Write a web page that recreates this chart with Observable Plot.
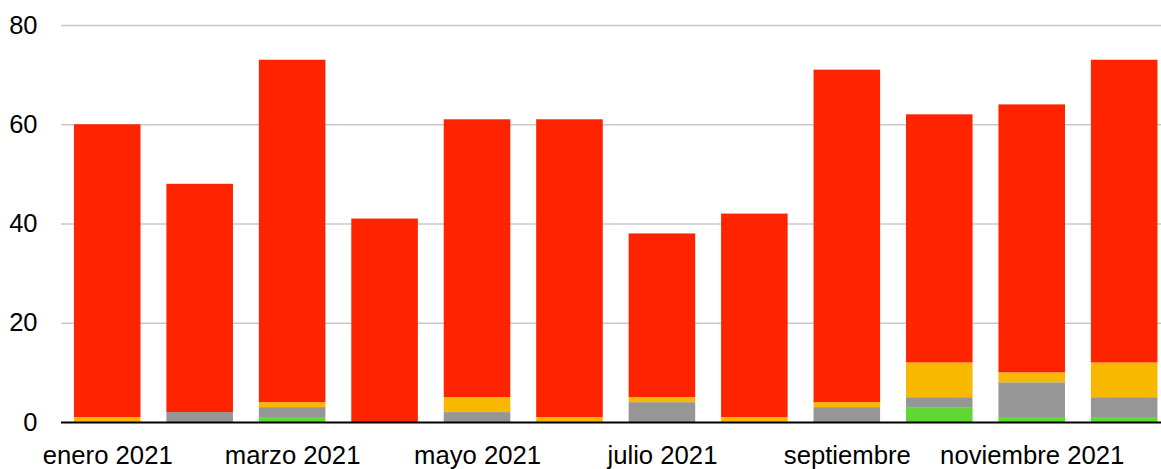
<!DOCTYPE html>
<html>
<head>
<meta charset="utf-8">
<script src="https://cdn.jsdelivr.net/npm/d3@7"></script>
<script src="https://cdn.jsdelivr.net/npm/@observablehq/plot@0.6"></script>
<style>
  html, body { margin: 0; padding: 0; background: #fff; }
  svg { display: block; }
</style>
</head>
<body>
<div id="chart"></div>
<script>
// Months of 2021 (one bar per month)
const months = ["enero 2021", "febrero 2021", "marzo 2021", "abril 2021", "mayo 2021", "junio 2021",
  "julio 2021", "agosto 2021", "septiembre 2021", "octubre 2021", "noviembre 2021", "diciembre 2021"];

// Labels shown under the axis (every other month)
const tickLabels = ["enero 2021", "", "marzo 2021", "", "mayo 2021", "",
  "julio 2021", "", "septiembre", "", "noviembre 2021", ""];

// Stacked series, bottom to top
const seriesNames = ["verde", "gris", "amarillo", "rojo"];
const seriesColors = ["#5fd836", "#969696", "#f9b800", "#ff2400"];
const verde    = [0, 0, 1, 0, 0, 0, 0, 0, 0, 3, 1, 1];
const gris     = [0, 2, 2, 0, 2, 0, 4, 0, 3, 2, 7, 4];
const amarillo = [1, 0, 1, 0, 3, 1, 1, 1, 1, 7, 2, 7];
const rojo     = [59, 46, 69, 41, 56, 60, 33, 41, 67, 50, 54, 61];

const yTicks = [0, 20, 40, 60, 80];

const seriesValues = [verde, gris, amarillo, rojo];
const rows = months.flatMap((m, i) =>
  seriesNames.map((s, k) => ({ month: m, serie: s, value: seriesValues[k][i] }))
);

const chart = Plot.plot({
  width: 1161,
  height: 469,
  marginTop: 25,
  marginBottom: 47,
  marginLeft: 61,
  marginRight: 0,
  style: { fontFamily: "'Liberation Sans', Arial, sans-serif", background: "#fff" },
  x: { domain: months, range: [61, 1170.4], paddingInner: 0.28, paddingOuter: 0.14, round: false, label: null },
  y: { domain: [0, 80], label: null },
  color: { domain: seriesNames, range: seriesColors },
  marks: [
    Plot.gridY(yTicks.filter(d => d > 0), { stroke: "#c8c8c8", strokeOpacity: 1, strokeWidth: 1.5 }),
    Plot.axisY(yTicks, { tickSize: 0, tickPadding: 24, fontSize: 25.5, fill: "#000", label: null }),
    Plot.axisX({
      tickSize: 0, tickPadding: 23, fontSize: 25.7, fill: "#000", label: null,
      tickFormat: d => tickLabels[months.indexOf(d)]
    }),
    Plot.barY(rows, { x: "month", y: "value", fill: "serie" }),
    Plot.ruleY([0], { stroke: "#000", strokeWidth: 2 })
  ]
});

document.getElementById("chart").appendChild(chart);
</script>
</body>
</html>
